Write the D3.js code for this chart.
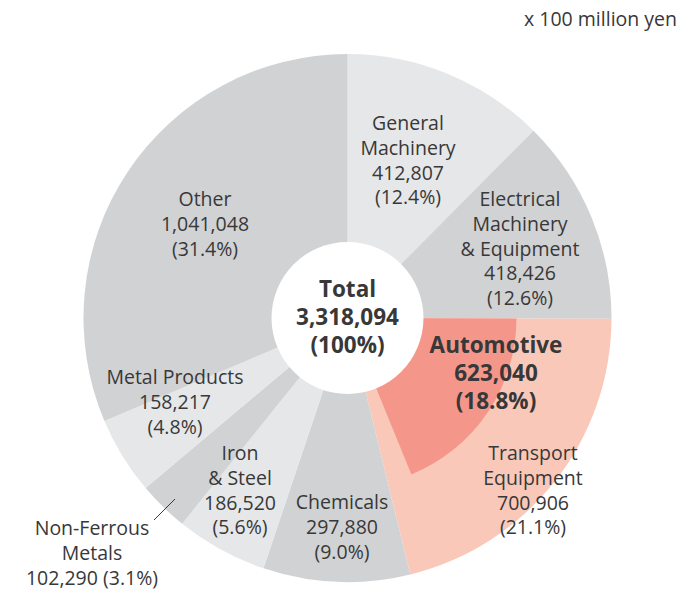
<!DOCTYPE html>
<html>
<head>
<meta charset="utf-8">
<script src="https://cdn.jsdelivr.net/npm/d3@7"></script>
<style>
  body { margin: 0; background: #fff; }
  svg text { font-family: "Open Sans", "Noto Sans", sans-serif; fill: #383838; }
</style>
</head>
<body>
<figure id="pie" style="margin:0"></figure>
<script>
// values in x 100 million yen, clockwise from 12 o'clock
const categories = ["General Machinery", "Electrical Machinery & Equipment", "Transport Equipment",
  "Chemicals", "Iron & Steel", "Non-Ferrous Metals", "Metal Products", "Other"];
const values = [412807, 418426, 700906, 297880, 186520, 102290, 158217, 1041048];
const shares = ["12.4%", "12.6%", "21.1%", "9.0%", "5.6%", "3.1%", "4.8%", "31.4%"];
const labelLines = [
  ["General", "Machinery"],
  ["Electrical", "Machinery", "& Equipment"],
  ["Transport", "Equipment"],
  ["Chemicals"],
  ["Iron", "& Steel"],
  ["Non-Ferrous", "Metals"],
  ["Metal Products"],
  ["Other"]
];
const automotive = { name: "Automotive", value: 623040, share: "18.8%" };
const total = 3318094;

const width = 678, height = 593;
const cx = 347.5, cy = 318;
const radius = 264, autoRadius = 169, holeRadius = 76;

const colors = ["#e6e7e8", "#d1d2d4", "#f9c8b9", "#d1d2d4", "#e6e7e8", "#d1d2d4", "#e6e7e8", "#d1d2d4"];

const svg = d3.select("figure#pie")
  .append("svg")
  .attr("width", width)
  .attr("height", height);

svg.append("text")
  .attr("x", 677).attr("y", 26)
  .attr("text-anchor", "end")
  .style("font-size", "19.5px")
  .text("x 100 million yen");

const g = svg.append("g").attr("transform", "translate(" + cx + "," + cy + ")");

const pie = d3.pie().sort(null).value(d => d);
const arcs = pie(values);
const arc = d3.arc().innerRadius(0).outerRadius(radius);

g.selectAll("path.slice")
  .data(arcs)
  .enter()
  .append("path")
  .attr("class", "slice")
  .attr("d", arc)
  .attr("fill", (d, i) => colors[i]);

// automotive sub-slice inside transport equipment
const tr = arcs[2];
const autoAngle = tr.startAngle + automotive.value / total * 2 * Math.PI;
g.append("path")
  .attr("d", d3.arc().innerRadius(0).outerRadius(autoRadius)({ startAngle: tr.startAngle, endAngle: autoAngle }))
  .attr("fill", "#f4978a");

g.append("circle").attr("r", holeRadius).attr("fill", "#fff");

const fmt = d3.format(",");
const lineH = 24.8;
// label anchors (center x, first baseline y) relative to page
const labelPos = [
  [408, 130], [520, 206], [533, 460], [342, 509],
  [240, 460], [92, 535], [175, 384], [205, 206]
];

function block(x, y, lines, size, weight, step) {
  const t = svg.append("text")
    .attr("text-anchor", "middle")
    .style("font-size", size + "px")
    .style("font-weight", weight);
  lines.forEach((s, i) => {
    t.append("tspan").attr("x", x).attr("y", y + i * step).text(s);
  });
}

categories.forEach((c, i) => {
  let lines = labelLines[i].slice();
  if (i === 5) lines.push(fmt(values[i]) + " (" + shares[i] + ")");
  else lines.push(fmt(values[i]), "(" + shares[i] + ")");
  block(labelPos[i][0], labelPos[i][1], lines, 19.5, 400, lineH);
});

// leader for Non-Ferrous Metals
svg.append("line")
  .attr("x1", 154).attr("y1", 520)
  .attr("x2", 175).attr("y2", 499)
  .attr("stroke", "#383838").attr("stroke-width", 1);

block(cx, 297, ["Total", fmt(total), "(100%)"], 22.5, 700, 28);
block(496, 353, [automotive.name, fmt(automotive.value), "(" + automotive.share + ")"], 22.5, 700, 28);
</script>
</body>
</html>
